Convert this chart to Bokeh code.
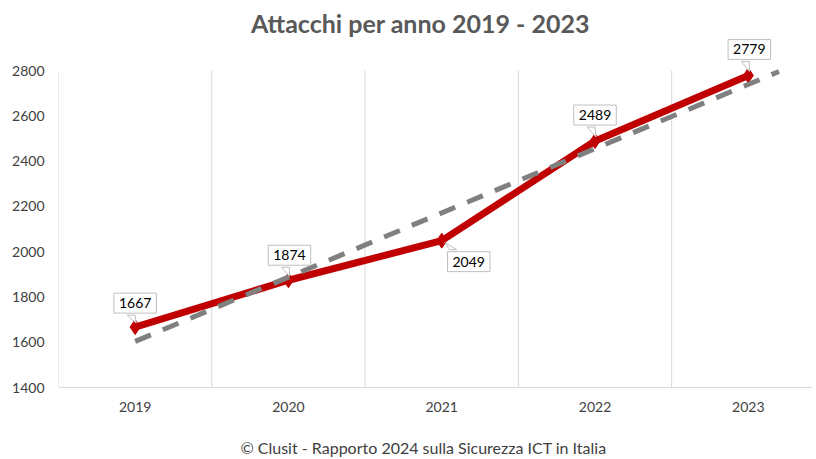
from bokeh.plotting import figure
from bokeh.models import ColumnDataSource, Label, FixedTicker, Range1d, Span
from bokeh.core.properties import value
from bokeh.embed import file_html
from bokeh.resources import INLINE
import numpy as np

# ---- data ----
years = ["2019", "2020", "2021", "2022", "2023"]
attacks = [1667, 1874, 2049, 2489, 2779]
y_ticks = [1400, 1600, 1800, 2000, 2200, 2400, 2600, 2800]
title_text = "Attacchi per anno 2019 - 2023"
footer_text = "© Clusit - Rapporto 2024 sulla Sicurezza ICT in Italia"
trend_forward = 0.2  # forecast periods of the linear trendline

# label offsets (screen px, y up) relative to each point
label_dx = [0, 1, 27, 0, 1]
label_dy = [24, 25, -21, 26, 26]

# ---- layout ----
W, H = 816, 459
LEFT, RIGHT = 58, 4
FW, FH = W - LEFT - RIGHT, H
X0, X1 = -0.5, 4.4186
Y0, Y1 = 1082, 3110
sx = FW / (X1 - X0)
sy = FH / (Y1 - Y0)

xi = list(range(len(years)))
src = ColumnDataSource(dict(x=xi, y=attacks))

p = figure(width=W, height=H, output_backend="svg", toolbar_location=None,
           x_range=Range1d(X0, X1), y_range=Range1d(Y0, Y1), x_axis_location=None,
           min_border_left=LEFT, min_border_right=RIGHT, min_border_top=0, min_border_bottom=0)
p.outline_line_color = None
p.background_fill_color = "white"
p.border_fill_color = "white"

# grid (vertical category separators, spanning the value axis only)
p.xgrid.visible = False
p.ygrid.visible = False
gx = [i - 0.5 for i in range(len(years))]
p.segment(x0=gx, y0=[y_ticks[0]] * len(gx), x1=gx, y1=[y_ticks[-1]] * len(gx),
          line_color="#D9D9D9", line_width=1)

# category axis line + labels
p.add_layout(Span(location=y_ticks[0], dimension="width", line_color="#D9D9D9", line_width=1))
p.text(x=xi, y=[y_ticks[0]] * len(xi), text=years, y_offset=19,
       text_align="center", text_baseline="middle",
       text_font=value("Lato"), text_font_size="14px", text_color="#404040")

# value axis
p.yaxis.ticker = FixedTicker(ticks=y_ticks)
p.yaxis.axis_line_color = None
p.yaxis.major_tick_line_color = None
p.yaxis.minor_tick_line_color = None
p.yaxis.major_tick_out = 0
p.yaxis.major_label_standoff = 14
p.yaxis.major_label_text_font = "Lato"
p.yaxis.major_label_text_font_size = "14px"
p.yaxis.major_label_text_color = "#404040"

# main series
p.line("x", "y", source=src, line_color="#C00000", line_width=7, line_join="round")
p.scatter("x", "y", source=src, marker="diamond", size=15, fill_color="#C00000", line_color="#C00000")

# linear trendline (least squares on the data, like Excel)
m, b = np.polyfit(xi, attacks, 1)
tx = [xi[0], xi[-1] + trend_forward]
ty = [m * t + b for t in tx]
p.line(tx, ty, line_color="#808080", line_width=5, line_dash="17 13")

# callout tails
tails_x, tails_y = [], []
for i, v in enumerate(attacks):
    dx, dy = label_dx[i], label_dy[i]
    if dy > 0:
        pts = [(dx - 8, dy - 12), (dx, dy - 12), (1, 4)]
    else:
        pts = [(3, -2), (dx - 19, dy + 12), (dx - 12, dy + 12)]
    tails_x.append([i + px / sx for px, _ in pts])
    tails_y.append([v + py / sy for _, py in pts])
p.patches(tails_x, tails_y, fill_color="white", line_color="#BFBFBF", line_width=1)

# callout boxes
for i, v in enumerate(attacks):
    p.add_layout(Label(x=i, y=v, x_offset=label_dx[i], y_offset=label_dy[i], text=str(v),
                       text_align="center", text_baseline="middle",
                       text_font="Lato", text_font_size="14px", text_color="#000000",
                       background_fill_color="white", border_line_color="#BFBFBF",
                       border_line_width=1, padding=5))

# title and footer (screen units, relative to the frame's bottom-left)
p.add_layout(Label(x=420 - LEFT, y=H - 22, x_units="screen", y_units="screen", text=title_text,
                   text_align="center", text_baseline="middle",
                   text_font="Lato", text_font_size="25px", text_font_style="bold",
                   text_color="#595959"))
p.add_layout(Label(x=423 - LEFT, y=H - 447, x_units="screen", y_units="screen", text=footer_text,
                   text_align="center", text_baseline="middle",
                   text_font="Lato", text_font_size="16px",
                   text_color="#404040"))

open("out.html", "w").write(file_html(p, INLINE))
